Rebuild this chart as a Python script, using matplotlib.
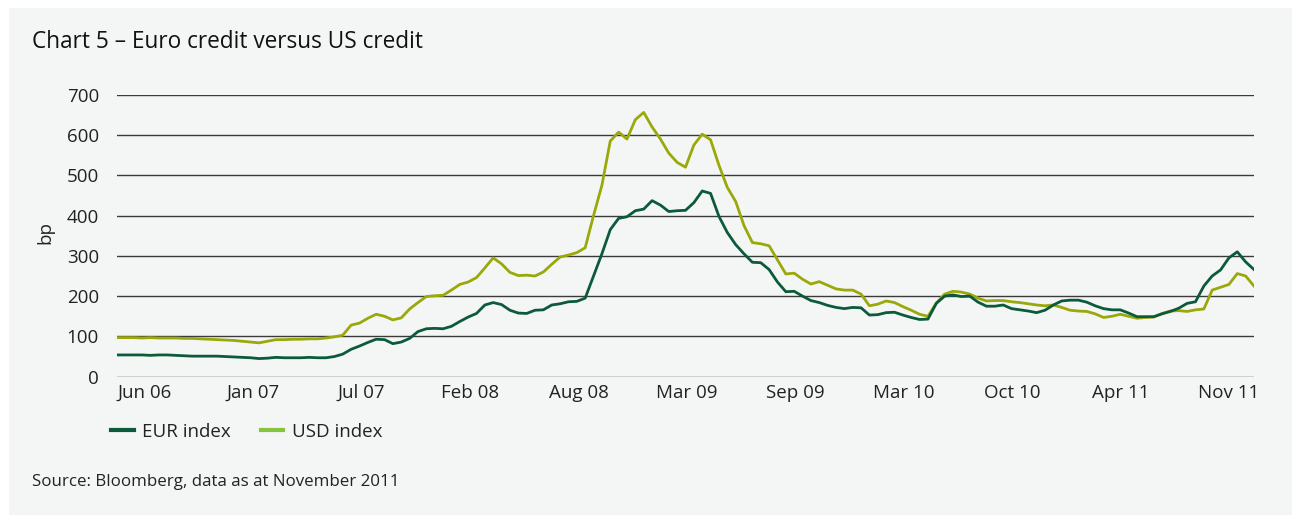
import numpy as np
import matplotlib
matplotlib.use("Agg")
import matplotlib.pyplot as plt
from matplotlib.lines import Line2D
from matplotlib.patches import Rectangle

plt.rcParams['font.family'] = ['Open Sans', 'DejaVu Sans']

# ---- data (bp), semi-monthly observations from mid-2006 to Nov 2011 ----
tick_labels = ["Jun 06", "Jan 07", "Jul 07", "Feb 08", "Aug 08", "Mar 09",
               "Sep 09", "Mar 10", "Oct 10", "Apr 11", "Nov 11"]

eur_index = [
    54, 54, 54, 54, 53, 54, 54, 53, 52, 51,
    51, 51, 51, 50, 49, 48, 47, 45, 46, 48,
    47, 47, 47, 48, 47, 47, 50, 56, 68, 76,
    85, 93, 92, 82, 86, 95, 112, 119, 120, 119,
    125, 137, 148, 157, 178, 184, 179, 165, 158, 157,
    165, 166, 178, 181, 186, 187, 195, 250, 305, 365,
    393, 397, 412, 416, 437, 426, 410, 412, 413, 432,
    461, 455, 398, 358, 328, 305, 284, 283, 266, 235,
    211, 212, 200, 189, 184, 177, 172, 169, 172, 171,
    153, 154, 159, 160, 153, 147, 142, 143, 182, 200,
    203, 199, 200, 185, 175, 175, 178, 169, 166, 163,
    159, 165, 178, 188, 190, 190, 185, 176, 169, 166,
    166, 158, 149, 149, 149, 156, 162, 170, 182, 186,
    225, 250, 265, 295, 310, 285, 266,
]

usd_index = [
    97, 97, 97, 96, 97, 96, 96, 96, 95, 95,
    94, 93, 92, 91, 90, 88, 86, 84, 88, 92,
    92, 93, 93, 94, 94, 96, 99, 103, 128, 133,
    145, 155, 150, 141, 146, 168, 184, 199, 201, 202,
    215, 229, 235, 246, 270, 295, 280, 259, 251, 252,
    250, 260, 279, 297, 302, 308, 320, 400, 475, 585,
    607, 590, 638, 656, 620, 590, 555, 532, 520, 575,
    602, 588, 525, 470, 435, 375, 333, 330, 325, 290,
    255, 257, 242, 230, 236, 227, 218, 215, 215, 205,
    176, 180, 188, 184, 174, 165, 155, 150, 183, 205,
    212, 210, 205, 195, 188, 189, 189, 186, 184, 181,
    178, 176, 178, 172, 165, 163, 162, 156, 147, 150,
    155, 150, 145, 147, 148, 157, 163, 164, 162, 166,
    168, 215, 222, 229, 256, 250, 225,
]

EUR_COLOR = "#0b5a3a"
USD_COLOR = "#9aa80a"
USD_LEGEND = "#86c33f"
BG = "#f4f6f6"
TXT = "#222222"

W, H = 1298, 515
fig = plt.figure(figsize=(W / 100, H / 100), dpi=100, facecolor="white")
fig.patches.append(Rectangle((9 / W, 0), (1292 - 9) / W, 507 / H,
                             transform=fig.transFigure, facecolor=BG,
                             edgecolor="none", zorder=-10))

ax = fig.add_axes([117 / W, (H - 376.7) / H, (1254 - 117) / W, (376.7 - 94.7) / H])
ax.set_facecolor("none")

x = np.arange(len(eur_index))
ax.plot(x, usd_index, color=USD_COLOR, lw=2.0, zorder=3, solid_joinstyle="round")
ax.plot(x, eur_index, color=EUR_COLOR, lw=2.0, zorder=4, solid_joinstyle="round")

ax.set_xlim(0, len(eur_index) - 1)
ax.set_ylim(0, 700)
ax.set_yticks(np.arange(0, 701, 100))
ax.yaxis.grid(True, color="#3a3a3a", lw=1.0)
ax.set_axisbelow(True)
for s in ax.spines.values():
    s.set_visible(False)

tick_pos = np.linspace(3.35, 133.0, len(tick_labels))
ax.set_xticks(tick_pos)
ax.set_xticklabels(tick_labels)
ax.tick_params(axis="both", length=0, labelsize=13.5, colors=TXT)
ax.tick_params(axis="y", pad=13)
ax.tick_params(axis="x", pad=5)

fig.text(45 / W, (H - 233) / H, "bp", rotation=90, ha="center", va="center",
         fontsize=13.5, color=TXT)

fig.text(32 / W, (H - 42) / H, "Chart 5 \u2013 Euro credit versus US credit",
         ha="left", va="center", fontsize=16.3, color="#111111")

handles = [Line2D([], [], color=EUR_COLOR, lw=3),
           Line2D([], [], color=USD_LEGEND, lw=3)]
fig.legend(handles, ["EUR index", "USD index"], loc="center left",
           bbox_to_anchor=(111 / W, (H - 432) / H), ncol=2, frameon=False,
           fontsize=13.5, handlelength=1.2, handletextpad=0.45,
           columnspacing=1.6, borderpad=0, borderaxespad=0,
           labelcolor=TXT)

fig.text(32 / W, (H - 482) / H, "Source: Bloomberg, data as at November 2011",
         ha="left", va="center", fontsize=12.2, color=TXT)

fig.savefig("out.png", dpi=100, facecolor=fig.get_facecolor())
